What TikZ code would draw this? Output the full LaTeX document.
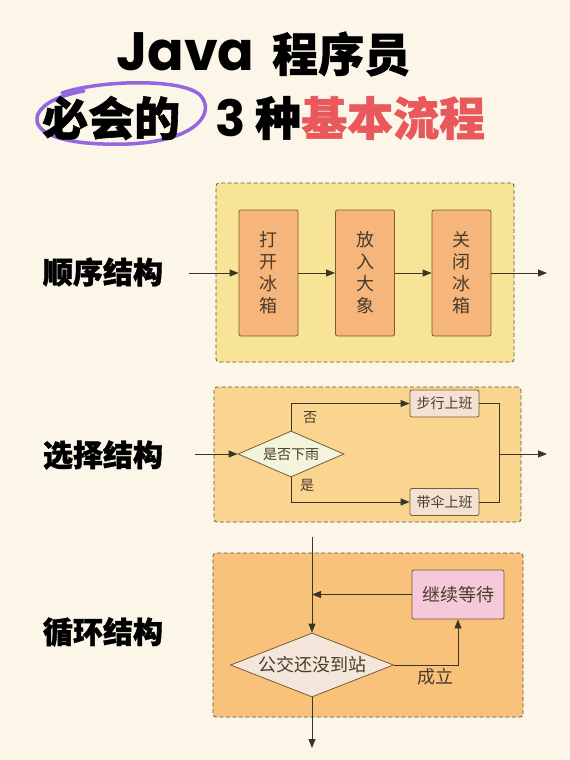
\documentclass[tikz,border=0pt]{standalone}
\usepackage{fontspec}
\usetikzlibrary{arrows.meta, positioning, shapes.geometric}
\newfontfamily\cjk{Noto Sans CJK SC}
\newfontfamily\cjkheavy[FakeBold=1.2]{Noto Sans CJK SC}
\newfontfamily\headlatin{Poppins}
\definecolor{paper}{HTML}{FCF6E8}
\definecolor{inkline}{HTML}{3B3526}
\definecolor{inkbrown}{HTML}{7A5A32}
\definecolor{inktext}{HTML}{4A3B2A}
\definecolor{framegrey}{HTML}{5E5548}
\definecolor{seqfill}{HTML}{F8E496}
\definecolor{stepfill}{HTML}{F5B57B}
\definecolor{selfill}{HTML}{F9D590}
\definecolor{decfill}{HTML}{F2F4DC}
\definecolor{choicefill}{HTML}{F3E2D3}
\definecolor{loopfill}{HTML}{F8C27B}
\definecolor{busfill}{HTML}{F5E6DC}
\definecolor{waitfill}{HTML}{F6C9DA}
\definecolor{loopviolet}{HTML}{9466E0}
\definecolor{headred}{HTML}{E9585B}
\tikzset{
  frame/.style={draw=framegrey, line width=0.8pt, dash pattern=on 4pt off 2.5pt,
    rounded corners=3pt, inner sep=0pt},
  stepbox/.style={draw=inkbrown, line width=0.8pt, rounded corners=2pt, inner sep=0pt,
    text=inktext, font=\cjk\fontsize{18}{22}\selectfont, align=center},
  decbox/.style={diamond, draw=inkbrown, line width=0.8pt, inner sep=0pt, text=inktext},
  flow/.style={draw=inkline, line width=0.8pt, -{Triangle[length=9pt,width=7pt]}},
  wire/.style={draw=inkline, line width=0.8pt},
  sidelabel/.style={font=\cjkheavy\bfseries\fontsize{30}{30}\selectfont, text=black},
  headcjk/.style={inner sep=0pt, font=\cjkheavy\bfseries\fontsize{46}{46}\selectfont},
  edgelabel/.style={text=inktext, inner sep=0pt},
}
\begin{document}
\begin{tikzpicture}[x=1pt, y=-1pt]
  \useasboundingbox[fill=paper] (0,0) rectangle (570,760);
  % title
  \draw[loopviolet, line width=3.5pt, line cap=round]
    (62,93) .. controls (100,80) and (182,78) .. (200,95)
    .. controls (216,112) and (198,141) .. (128,144)
    .. controls (66,146) and (30,134) .. (38,114)
    .. controls (44,102) and (62,95) .. (84,91);
  \node[anchor=west, inner sep=0pt, font=\headlatin\bfseries\fontsize{54}{54}\selectfont]
    (headjava) at (116,52) {Java};
  \node[headcjk, anchor=west] (headrole) at (272,54) {程序员};
  \node[headcjk, anchor=west] (headmust) at (42,118) {必会的};
  \node[inner sep=0pt, font=\headlatin\bfseries\fontsize{50}{50}\selectfont]
    (headthree) at (231,118) {3};
  \node[headcjk] (headkind) at (278,118) {种};
  \node[headcjk, anchor=west, text=headred] (headflow) at (301,118) {基本流程};
  % side labels
  \foreach \lab/\row in {顺序结构/272, 选择结构/455, 循环结构/632}{%
    \node[sidelabel] at (103,\row) {\lab};}
  % sequence
  \node[frame, fill=seqfill, minimum width=298pt, minimum height=179pt]
    (seqframe) at (365,272.5) {};
  \foreach \name/\col/\lab in {open/268.5/打\\开\\冰\\箱, put/365/放\\入\\大\\象,
                               shut/461.5/关\\闭\\冰\\箱}{%
    \node[stepbox, fill=stepfill, minimum width=59pt, minimum height=126pt]
      (\name) at (\col,273) {\lab};}
  \coordinate (seqin) at (189,273);
  \coordinate (seqout) at (547,273);
  \draw[flow] (seqin) -- (open);
  \draw[flow] (open) -- (put);
  \draw[flow] (put) -- (shut);
  \draw[flow] (shut) -- (seqout);
  % selection
  \node[frame, fill=selfill, minimum width=307pt, minimum height=135pt]
    (selframe) at (367.5,454.5) {};
  \node[decbox, fill=decfill, aspect=2.3, minimum width=106pt, minimum height=46pt,
        font=\cjk\fontsize{14}{14}\selectfont] (rain) at (291,454) {是否下雨};
  \node[stepbox, fill=choicefill, minimum width=69pt, minimum height=27pt,
        font=\cjk\fontsize{14}{14}\selectfont] (walk) at (444.5,403.5) {步行上班};
  \node[stepbox, fill=choicefill, minimum width=69pt, minimum height=27pt,
        font=\cjk\fontsize{14}{14}\selectfont] (umbrella) at (444.5,502) {带伞上班};
  \coordinate (selin) at (195,454);
  \coordinate (seljoin) at (499,454);
  \coordinate (selout) at (547,454);
  \draw[flow] (selin) -- (rain.west);
  \draw[flow] (rain.north) |- (walk.west);
  \draw[flow] (rain.south) |- (umbrella.west);
  \draw[wire] (walk.east) -| (seljoin);
  \draw[wire] (umbrella.east) -| (seljoin);
  \draw[flow] (seljoin) -- (selout);
  \node[edgelabel, font=\cjk\fontsize{14}{14}\selectfont] (nolab) at (310,418) {否};
  \node[edgelabel, font=\cjk\fontsize{14}{14}\selectfont] (yeslab) at (307,485) {是};
  % loop
  \node[frame, fill=loopfill, minimum width=310pt, minimum height=164pt]
    (loopframe) at (368,635) {};
  \node[decbox, fill=busfill, aspect=2.55, minimum width=163pt, minimum height=64pt,
        font=\cjk\fontsize{18}{18}\selectfont] (bus) at (312,665) {公交还没到站};
  \node[stepbox, fill=waitfill, minimum width=92pt, minimum height=49pt]
    (wait) at (458,594.5) {继续等待};
  \coordinate (loopin) at (312,537);
  \coordinate (loopout) at (312,748);
  \draw[flow] (loopin) -- (bus.north);
  \draw[flow] (bus.east) -| (wait.south);
  \draw[flow] (wait.west) -- (wait.west -| bus.north);
  \draw[flow] (bus.south) -- (loopout);
  \node[edgelabel, font=\cjk\fontsize{18}{18}\selectfont] (holdlab) at (435,677) {成立};
\end{tikzpicture}
\end{document}
